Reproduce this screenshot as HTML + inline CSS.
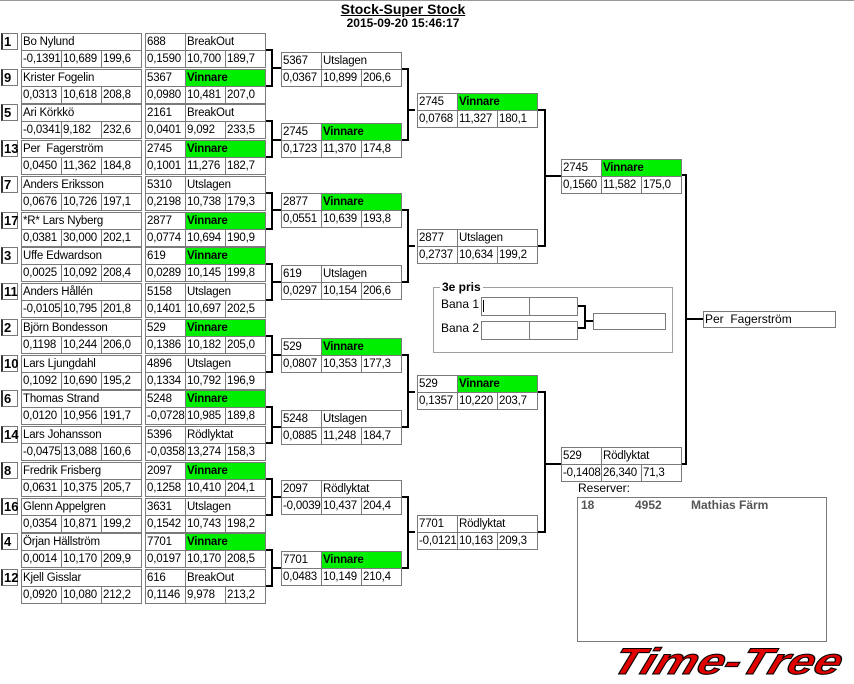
<!DOCTYPE html>
<html><head><meta charset="utf-8"><style>
body{margin:0;width:854px;height:684px;position:relative;background:#fff;overflow:hidden;font-family:"Liberation Sans",Arial,sans-serif;font-size:12px;color:#000}
.e{position:absolute;width:121px;height:34px}
.e span{position:absolute;box-sizing:border-box;border:1px solid #7a7a7a;height:18px;line-height:16px;padding-left:1px;white-space:nowrap;overflow:hidden;background:#fff;font-size:11.5px;letter-spacing:-0.2px}
.t{left:0;top:0;width:121px}
.n{left:0;top:0;width:41px}
.st{left:40px;top:0;width:81px}
.a{left:0;top:17px;width:41px}
.b{left:40px;top:17px;width:41px}
.c{left:80px;top:17px;width:41px}
.e span.v{background:#00ee00;font-weight:bold}
.sd{position:absolute;left:1px;width:17px;height:17px;box-sizing:border-box;border:1px solid #7a7a7a;border-left:2px solid #333;font-weight:bold;font-size:13px;line-height:15px;padding-left:1px;background:#fff}
.lab{position:absolute;font-size:12px;white-space:nowrap}
</style></head><body>
<div style="position:absolute;left:0;top:0;width:854px;height:1px;background:#999"></div>
<div style="position:absolute;left:0;top:2px;width:806px;text-align:center;font-weight:bold;font-size:14px;text-decoration:underline;line-height:15px">Stock-Super Stock</div>
<div style="position:absolute;left:0;top:16px;width:806px;text-align:center;font-weight:bold;font-size:12px;line-height:15px">2015-09-20 15:46:17</div>

<svg style="position:absolute;left:0;top:0" width="854" height="684" fill="none" stroke="#000" stroke-width="2">
<path d="M266 50H272V86H266M272 68H281"/>
<path d="M266 121H272V157H266M272 140H281"/>
<path d="M266 193H272V229H266M272 210H281"/>
<path d="M266 264H272V300H266M272 282H281"/>
<path d="M266 336H272V372H266M272 355H281"/>
<path d="M266 407H272V443H266M272 427H281"/>
<path d="M266 479H272V515H266M272 497H281"/>
<path d="M266 550H272V586H266M272 568H281"/>
<path d="M402 69H408V140H402M408 110H415"/>
<path d="M402 210H408V282H402M408 246H415"/>
<path d="M402 355H408V427H402M408 392H415"/>
<path d="M402 497H408V568H402M408 532H415"/>
<path d="M538 110H545V246H538M545 176H561"/>
<path d="M538 392H545V532H538M545 464H561"/>
<path d="M682 175H686V464H682M686 319H703"/>
<path d="M577 306H585V328H577M585 321H593"/>
</svg>

<!-- Round 1 -->
<div class="sd" style="top:33px">1</div>
<div class="e" style="left:21px;top:33px"><span class="t">Bo Nylund</span><span class="a">-0,1391</span><span class="b">10,689</span><span class="c">199,6</span></div>
<div class="e" style="left:145px;top:33px"><span class="n">688</span><span class="st">BreakOut</span><span class="a">0,1590</span><span class="b">10,700</span><span class="c">189,7</span></div>
<div class="sd" style="top:69px">9</div>
<div class="e" style="left:21px;top:69px"><span class="t">Krister Fogelin</span><span class="a">0,0313</span><span class="b">10,618</span><span class="c">208,8</span></div>
<div class="e" style="left:145px;top:69px"><span class="n">5367</span><span class="st v">Vinnare</span><span class="a">0,0980</span><span class="b">10,481</span><span class="c">207,0</span></div>

<div class="sd" style="top:104px">5</div>
<div class="e" style="left:21px;top:104px"><span class="t">Ari Körkkö</span><span class="a">-0,0341</span><span class="b">9,182</span><span class="c">232,6</span></div>
<div class="e" style="left:145px;top:104px"><span class="n">2161</span><span class="st">BreakOut</span><span class="a">0,0401</span><span class="b">9,092</span><span class="c">233,5</span></div>
<div class="sd" style="top:140px">13</div>
<div class="e" style="left:21px;top:140px"><span class="t">Per&nbsp; Fagerström</span><span class="a">0,0450</span><span class="b">11,362</span><span class="c">184,8</span></div>
<div class="e" style="left:145px;top:140px"><span class="n">2745</span><span class="st v">Vinnare</span><span class="a">0,1001</span><span class="b">11,276</span><span class="c">182,7</span></div>

<div class="sd" style="top:176px">7</div>
<div class="e" style="left:21px;top:176px"><span class="t">Anders Eriksson</span><span class="a">0,0676</span><span class="b">10,726</span><span class="c">197,1</span></div>
<div class="e" style="left:145px;top:176px"><span class="n">5310</span><span class="st">Utslagen</span><span class="a">0,2198</span><span class="b">10,738</span><span class="c">179,3</span></div>
<div class="sd" style="top:212px">17</div>
<div class="e" style="left:21px;top:212px"><span class="t">*R* Lars Nyberg</span><span class="a">0,0381</span><span class="b">30,000</span><span class="c">202,1</span></div>
<div class="e" style="left:145px;top:212px"><span class="n">2877</span><span class="st v">Vinnare</span><span class="a">0,0774</span><span class="b">10,694</span><span class="c">190,9</span></div>

<div class="sd" style="top:247px">3</div>
<div class="e" style="left:21px;top:247px"><span class="t">Uffe Edwardson</span><span class="a">0,0025</span><span class="b">10,092</span><span class="c">208,4</span></div>
<div class="e" style="left:145px;top:247px"><span class="n">619</span><span class="st v">Vinnare</span><span class="a">0,0289</span><span class="b">10,145</span><span class="c">199,8</span></div>
<div class="sd" style="top:283px">11</div>
<div class="e" style="left:21px;top:283px"><span class="t">Anders Hållén</span><span class="a">-0,0105</span><span class="b">10,795</span><span class="c">201,8</span></div>
<div class="e" style="left:145px;top:283px"><span class="n">5158</span><span class="st">Utslagen</span><span class="a">0,1401</span><span class="b">10,697</span><span class="c">202,5</span></div>

<div class="sd" style="top:319px">2</div>
<div class="e" style="left:21px;top:319px"><span class="t">Björn Bondesson</span><span class="a">0,1198</span><span class="b">10,244</span><span class="c">206,0</span></div>
<div class="e" style="left:145px;top:319px"><span class="n">529</span><span class="st v">Vinnare</span><span class="a">0,1386</span><span class="b">10,182</span><span class="c">205,0</span></div>
<div class="sd" style="top:355px">10</div>
<div class="e" style="left:21px;top:355px"><span class="t">Lars Ljungdahl</span><span class="a">0,1092</span><span class="b">10,690</span><span class="c">195,2</span></div>
<div class="e" style="left:145px;top:355px"><span class="n">4896</span><span class="st">Utslagen</span><span class="a">0,1334</span><span class="b">10,792</span><span class="c">196,9</span></div>

<div class="sd" style="top:390px">6</div>
<div class="e" style="left:21px;top:390px"><span class="t">Thomas Strand</span><span class="a">0,0120</span><span class="b">10,956</span><span class="c">191,7</span></div>
<div class="e" style="left:145px;top:390px"><span class="n">5248</span><span class="st v">Vinnare</span><span class="a">-0,0728</span><span class="b">10,985</span><span class="c">189,8</span></div>
<div class="sd" style="top:426px">14</div>
<div class="e" style="left:21px;top:426px"><span class="t">Lars Johansson</span><span class="a">-0,0475</span><span class="b">13,088</span><span class="c">160,6</span></div>
<div class="e" style="left:145px;top:426px"><span class="n">5396</span><span class="st">Rödlyktat</span><span class="a">-0,0358</span><span class="b">13,274</span><span class="c">158,3</span></div>

<div class="sd" style="top:462px">8</div>
<div class="e" style="left:21px;top:462px"><span class="t">Fredrik Frisberg</span><span class="a">0,0631</span><span class="b">10,375</span><span class="c">205,7</span></div>
<div class="e" style="left:145px;top:462px"><span class="n">2097</span><span class="st v">Vinnare</span><span class="a">0,1258</span><span class="b">10,410</span><span class="c">204,1</span></div>
<div class="sd" style="top:498px">16</div>
<div class="e" style="left:21px;top:498px"><span class="t">Glenn Appelgren</span><span class="a">0,0354</span><span class="b">10,871</span><span class="c">199,2</span></div>
<div class="e" style="left:145px;top:498px"><span class="n">3631</span><span class="st">Utslagen</span><span class="a">0,1542</span><span class="b">10,743</span><span class="c">198,2</span></div>

<div class="sd" style="top:533px">4</div>
<div class="e" style="left:21px;top:533px"><span class="t">Örjan Hällström</span><span class="a">0,0014</span><span class="b">10,170</span><span class="c">209,9</span></div>
<div class="e" style="left:145px;top:533px"><span class="n">7701</span><span class="st v">Vinnare</span><span class="a">0,0197</span><span class="b">10,170</span><span class="c">208,5</span></div>
<div class="sd" style="top:569px">12</div>
<div class="e" style="left:21px;top:569px"><span class="t">Kjell Gisslar</span><span class="a">0,0920</span><span class="b">10,080</span><span class="c">212,2</span></div>
<div class="e" style="left:145px;top:569px"><span class="n">616</span><span class="st">BreakOut</span><span class="a">0,1146</span><span class="b">9,978</span><span class="c">213,2</span></div>

<!-- Round 2 -->
<div class="e" style="left:281px;top:52px"><span class="n">5367</span><span class="st">Utslagen</span><span class="a">0,0367</span><span class="b">10,899</span><span class="c">206,6</span></div>
<div class="e" style="left:281px;top:123px"><span class="n">2745</span><span class="st v">Vinnare</span><span class="a">0,1723</span><span class="b">11,370</span><span class="c">174,8</span></div>
<div class="e" style="left:281px;top:193px"><span class="n">2877</span><span class="st v">Vinnare</span><span class="a">0,0551</span><span class="b">10,639</span><span class="c">193,8</span></div>
<div class="e" style="left:281px;top:265px"><span class="n">619</span><span class="st">Utslagen</span><span class="a">0,0297</span><span class="b">10,154</span><span class="c">206,6</span></div>
<div class="e" style="left:281px;top:338px"><span class="n">529</span><span class="st v">Vinnare</span><span class="a">0,0807</span><span class="b">10,353</span><span class="c">177,3</span></div>
<div class="e" style="left:281px;top:410px"><span class="n">5248</span><span class="st">Utslagen</span><span class="a">0,0885</span><span class="b">11,248</span><span class="c">184,7</span></div>
<div class="e" style="left:281px;top:480px"><span class="n">2097</span><span class="st">Rödlyktat</span><span class="a">-0,0039</span><span class="b">10,437</span><span class="c">204,4</span></div>
<div class="e" style="left:281px;top:551px"><span class="n">7701</span><span class="st v">Vinnare</span><span class="a">0,0483</span><span class="b">10,149</span><span class="c">210,4</span></div>

<!-- Round 3 -->
<div class="e" style="left:417px;top:93px"><span class="n">2745</span><span class="st v">Vinnare</span><span class="a">0,0768</span><span class="b">11,327</span><span class="c">180,1</span></div>
<div class="e" style="left:417px;top:229px"><span class="n">2877</span><span class="st">Utslagen</span><span class="a">0,2737</span><span class="b">10,634</span><span class="c">199,2</span></div>
<div class="e" style="left:417px;top:375px"><span class="n">529</span><span class="st v">Vinnare</span><span class="a">0,1357</span><span class="b">10,220</span><span class="c">203,7</span></div>
<div class="e" style="left:417px;top:515px"><span class="n">7701</span><span class="st">Rödlyktat</span><span class="a">-0,0121</span><span class="b">10,163</span><span class="c">209,3</span></div>

<!-- Round 4 -->
<div class="e" style="left:561px;top:159px"><span class="n">2745</span><span class="st v">Vinnare</span><span class="a">0,1560</span><span class="b">11,582</span><span class="c">175,0</span></div>
<div class="e" style="left:561px;top:447px"><span class="n">529</span><span class="st">Rödlyktat</span><span class="a">-0,1408</span><span class="b">26,340</span><span class="c">71,3</span></div>

<!-- Final -->
<div style="position:absolute;left:703px;top:311px;width:133px;height:17px;box-sizing:border-box;border:1px solid #7a7a7a;line-height:15px;padding-left:1px;background:#fff">Per&nbsp; Fagerström</div>

<!-- 3e pris -->
<div style="position:absolute;left:433px;top:287px;width:240px;height:66px;box-sizing:border-box;border:1px solid #a0a0a0"></div>
<div class="lab" style="left:440px;top:280px;background:#fff;font-weight:bold;padding:0 2px">3e pris</div>
<div class="lab" style="left:441px;top:297px">Bana 1</div>
<div class="lab" style="left:441px;top:321px">Bana 2</div>
<div style="position:absolute;left:481px;top:297px;width:97px;height:19px;box-sizing:border-box;border:1px solid #7a7a7a;background:#fff"></div>
<div style="position:absolute;left:529px;top:297px;width:1px;height:19px;background:#7a7a7a"></div>
<div style="position:absolute;left:483px;top:300px;width:1px;height:12px;background:#000"></div>
<div style="position:absolute;left:481px;top:321px;width:97px;height:19px;box-sizing:border-box;border:1px solid #7a7a7a;background:#fff"></div>
<div style="position:absolute;left:529px;top:321px;width:1px;height:19px;background:#7a7a7a"></div>
<div style="position:absolute;left:593px;top:313px;width:73px;height:17px;box-sizing:border-box;border:1px solid #7a7a7a;background:#fff"></div>

<!-- Reserver -->
<div class="lab" style="left:578px;top:481px">Reserver:</div>
<div style="position:absolute;left:577px;top:497px;width:250px;height:145px;box-sizing:border-box;border:1px solid #7a7a7a;background:#fff"></div>
<div class="lab" style="left:581px;top:498px;font-weight:bold;color:#555">18</div>
<div class="lab" style="left:635px;top:498px;font-weight:bold;color:#555">4952</div>
<div class="lab" style="left:691px;top:498px;font-weight:bold;color:#555">Mathias Färm</div>

<!-- Logo -->
<div style="position:absolute;left:614px;top:640px;font-size:37px;font-weight:bold;font-style:italic;color:#e00000;-webkit-text-stroke:1px #000;letter-spacing:0;transform-origin:0 50%;transform:scaleX(1.3) skewX(-15deg);line-height:44px;white-space:nowrap">Time-Tree</div>
</body></html>
